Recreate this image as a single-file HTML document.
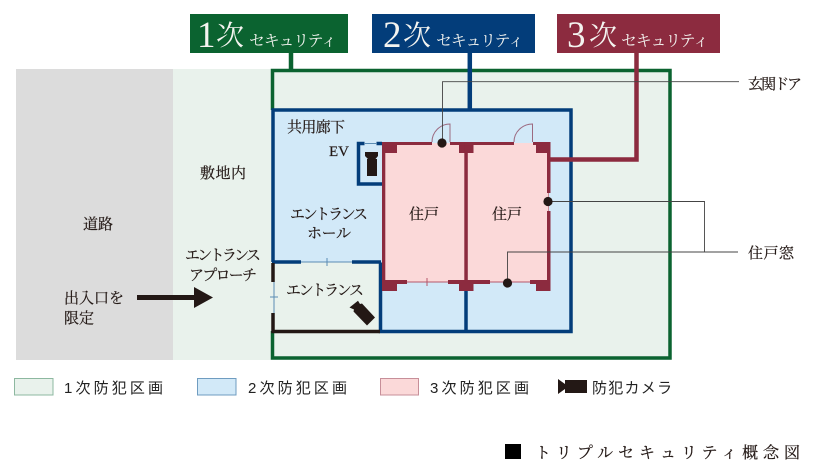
<!DOCTYPE html>
<html lang="ja"><head><meta charset="utf-8"><style>
html,body{margin:0;padding:0;background:#fff;width:815px;height:471px;overflow:hidden}
svg{display:block}
text{font-family:"Liberation Serif","Noto Serif CJK JP","Noto Serif CJK SC",serif;fill:#231815}
.l text{stroke:#231815;stroke-width:.2}
.g{font-family:"Liberation Sans","Noto Sans CJK JP",sans-serif;fill:#222}
.w{fill:#f4f4f0}
</style></head><body>
<svg width="815" height="471" viewBox="0 0 815 471" xmlns="http://www.w3.org/2000/svg">
<rect x="16" y="69" width="157" height="291" fill="#dcdcdc"/>
<rect x="173" y="69" width="498" height="291" fill="#e9f2ec"/>
<!-- blue zone -->
<rect x="274" y="111" width="296" height="220" fill="#d2e9f8"/>
<rect x="274" y="262" width="106" height="69" fill="#e9f2ec"/>
<!-- pink -->
<rect x="384" y="143" width="165" height="139" fill="#fbd9d9"/>
<!-- green frame -->
<path d="M272.500 331V358H670V70.500H272.500V110" fill="none" stroke="#0b6330" stroke-width="3.500"/>
<!-- blue frame -->
<path d="M273 262V110H571V331.500H380.500V262.500" fill="none" stroke="#033d7a" stroke-width="3.500"/>
<path d="M466 291V331" stroke="#033d7a" stroke-width="3.500"/>
<path d="M272 262H301M352 262H381" stroke="#033d7a" stroke-width="3.500"/>
<path d="M301 262H352M327 258V266" stroke="#5b8cb3" stroke-width="1"/>
<!-- entrance left / bottom -->
<path d="M273 263V282M273 313V331.500H380" fill="none" stroke="#231815" stroke-width="3.500"/>
<path d="M274 282V313M270 297H278" stroke="#5b8cb3" stroke-width="1"/>
<!-- EV -->
<path d="M364.500 143.500H358.500V184H382M376.500 143.500H382" fill="none" stroke="#033d7a" stroke-width="3.500"/>
<path d="M364 143.500H377" stroke="#5b8cb3" stroke-width="1"/>
<path d="M365 152H378V156L375.500 159H377V176H367V159H368L365 156Z" fill="#231815"/>
<!-- red connector -->
<path d="M550 159.500H636.500V53" fill="none" stroke="#8c2b3f" stroke-width="4.500"/>
<path d="M291 53V70" stroke="#0b6330" stroke-width="4.500"/>
<path d="M469.800 53V110" stroke="#033d7a" stroke-width="4.500"/>
<!-- walls -->
<g fill="#8c2b3f">
<rect x="382" y="142" width="50" height="3"/>
<rect x="450" y="142" width="64" height="3"/>
<rect x="533" y="142" width="17.500" height="3"/>
<rect x="382" y="142" width="15" height="11"/>
<rect x="459" y="142" width="14.500" height="11"/>
<rect x="536" y="142" width="14.500" height="11"/>
<rect x="382" y="142" width="3.300" height="149"/>
<rect x="464.300" y="142" width="3.500" height="149"/>
<rect x="547" y="142" width="3.500" height="51"/>
<rect x="547" y="211" width="3.500" height="80"/>
<rect x="382" y="280" width="15" height="11"/>
<rect x="397" y="280" width="10" height="4"/>
<rect x="448" y="280" width="42" height="4"/>
<rect x="459" y="280" width="14.500" height="11"/>
<rect x="530" y="280" width="20" height="4"/>
<rect x="536" y="280" width="14.500" height="11"/>
</g>
<path d="M407 282H448M427 278V286M490 282H530" stroke="#b5566a" stroke-width="1" fill="none"/>
<path d="M548.500 193V211" stroke="#c98a96" stroke-width="1"/>
<!-- doors -->
<path d="M432 142A18 18 0 0 1 450 124V142M514 142A18.500 18 0 0 1 532.500 124V142" fill="none" stroke="#9c6a80" stroke-width="1"/>
<!-- leaders -->
<path d="M442.500 143V81.700H739" fill="none" stroke="#444" stroke-width="0.900"/>
<path d="M548 201.500H704.500V252M507.500 283V252H738" fill="none" stroke="#444" stroke-width="0.900"/>
<circle cx="442" cy="143" r="4.600" fill="#231815"/>
<circle cx="548" cy="201.500" r="4.600" fill="#231815"/>
<circle cx="507.500" cy="283" r="4.600" fill="#231815"/>
<!-- entrance camera -->
<path d="M349.500 307.500L358 300.800L360 304L362 303.500L375 317.500L367 325.500L353.500 311.500L354 309.500Z" fill="#231815"/>
<!-- arrow -->
<path d="M137 295H194V287L213 297.500L194 308V300H137Z" fill="#231815"/>
<!-- header boxes -->
<rect x="190" y="14" width="158" height="39" fill="#0b6330"/>
<rect x="372" y="14" width="163" height="39" fill="#033d7a"/>
<rect x="557" y="14" width="163" height="39" fill="#8c2b3f"/>
<text class="w" x="197" y="47" font-size="37">1</text>
<text class="w" x="216" y="45" font-size="28">次</text>
<text class="w" x="249" y="46" font-size="16" textLength="88">セキュリティ</text>
<text class="w" x="383" y="47" font-size="37">2</text>
<text class="w" x="403" y="45" font-size="28">次</text>
<text class="w" x="436" y="46" font-size="16" textLength="88">セキュリティ</text>
<text class="w" x="567" y="47" font-size="37">3</text>
<text class="w" x="589" y="45" font-size="28">次</text>
<text class="w" x="621" y="46" font-size="16" textLength="88">セキュリティ</text>
<!-- labels -->
<g font-size="15" class="l">
<text x="287" y="132" textLength="58">共用廊下</text>
<text x="329" y="156" font-size="15">EV</text>
<text x="200" y="178" textLength="46">敷地内</text>
<text x="290" y="219" textLength="78">エントランス</text>
<text x="307" y="238" textLength="44">ホール</text>
<text x="286" y="295" textLength="78">エントランス</text>
<text x="409" y="219" textLength="30">住戸</text>
<text x="492" y="219" textLength="30">住戸</text>
<text x="83" y="229" textLength="30">道路</text>
<text x="185" y="260" textLength="76">エントランス</text>
<text x="189" y="280" textLength="68">アプローチ</text>
<text x="64" y="303" textLength="60">出入口を</text>
<text x="64" y="323" textLength="30">限定</text>
<text x="748" y="89" textLength="54">玄関ドア</text>
<text x="748" y="258" textLength="46">住戸窓</text>
</g>
<!-- legend -->
<rect x="14.500" y="378.500" width="38.500" height="16.500" fill="#e9f2ec" stroke="#8db8a0"/>
<rect x="197.500" y="378.500" width="38.500" height="16.500" fill="#d2e9f8" stroke="#6f9cc0"/>
<rect x="380.500" y="378.500" width="38" height="16.500" fill="#fbd9d9" stroke="#c78f99"/>
<g font-size="15">
<text class="g" x="64" y="393" textLength="99">1次防犯区画</text>
<text class="g" x="248" y="393" textLength="99">2次防犯区画</text>
<text class="g" x="430" y="393" textLength="99">3次防犯区画</text>
<text class="g" x="592" y="393" textLength="80">防犯カメラ</text>
</g>
<path d="M558 379L565 384V380H587V393H565V389L558 394Z" fill="#231815"/>
<rect x="505" y="444" width="16" height="15" fill="#000"/>
<text x="535" y="458" font-size="16" stroke="#231815" stroke-width=".2" textLength="265">トリプルセキュリティ概念図</text>
</svg>
</body></html>
